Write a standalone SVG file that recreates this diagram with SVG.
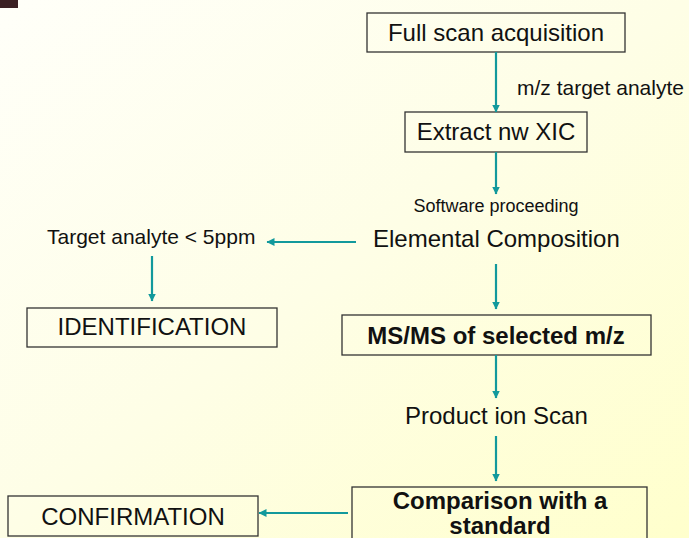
<svg xmlns="http://www.w3.org/2000/svg" width="689" height="538" viewBox="0 0 689 538">
  <defs>
    <linearGradient id="bg" x1="0" y1="0" x2="1" y2="1">
      <stop offset="0" stop-color="#fffff9"/>
      <stop offset="0.5" stop-color="#fefee6"/>
      <stop offset="1" stop-color="#ffffcc"/>
    </linearGradient>
    <marker id="head" markerUnits="userSpaceOnUse" markerWidth="9" markerHeight="9" refX="7.5" refY="4" orient="auto">
      <path d="M0,0 L8,4 L0,8 z" fill="#12999c"/>
    </marker>
  </defs>
  <style>
    .box { fill: none; stroke: #333333; stroke-width: 1.3; }
    .t { font-family: "Liberation Sans", Arial, sans-serif; fill: #111111; }
    .big { font-size: 24px; }
    .mid { font-size: 21px; }
    .small { font-size: 18px; }
    .bold { font-weight: bold; }
    .arrow { stroke: #12999c; stroke-width: 2.2; fill: none; marker-end: url(#head); }
  </style>

  <!-- page background and corner tab -->
  <rect x="0" y="0" width="689" height="538" fill="url(#bg)"/>
  <rect x="0" y="0" width="18" height="8" fill="#3b2024"/>

  <g id="full-scan">
    <rect class="box" x="367" y="13" width="258" height="39"/>
    <text class="t big" x="496" y="41" text-anchor="middle">Full scan acquisition</text>
  </g>

  <g id="mz-label">
    <text class="t mid" x="517" y="95">m/z target analyte</text>
  </g>

  <g id="extract-xic">
    <rect class="box" x="405" y="112" width="182" height="40"/>
    <text class="t big" x="496" y="140" text-anchor="middle">Extract nw XIC</text>
  </g>

  <g id="software-label">
    <text class="t small" x="496" y="212" text-anchor="middle">Software proceeding</text>
  </g>

  <g id="elemental">
    <text class="t big" x="373" y="247">Elemental Composition</text>
  </g>

  <g id="target-ppm">
    <text class="t mid" x="47" y="244">Target analyte &lt; 5ppm</text>
  </g>

  <g id="identification">
    <rect class="box" x="27" y="308" width="250" height="39"/>
    <text class="t big" x="152" y="335" text-anchor="middle">IDENTIFICATION</text>
  </g>

  <g id="msms">
    <rect class="box" x="342" y="315" width="309" height="40"/>
    <text class="t big bold" x="496" y="344" text-anchor="middle">MS/MS of selected m/z</text>
  </g>

  <g id="product-ion">
    <text class="t big" x="405" y="424">Product ion Scan</text>
  </g>

  <g id="comparison">
    <rect class="box" x="352" y="487" width="295" height="60"/>
    <text class="t big bold" x="500" y="509" text-anchor="middle">Comparison with a</text>
    <text class="t big bold" x="500" y="534" text-anchor="middle">standard</text>
  </g>

  <g id="confirmation">
    <rect class="box" x="8" y="496" width="250" height="40"/>
    <text class="t big" x="133" y="525" text-anchor="middle">CONFIRMATION</text>
  </g>

  <g id="connectors">
    <line class="arrow" x1="496" y1="52" x2="496" y2="112"/>
    <line class="arrow" x1="496" y1="152" x2="496" y2="194"/>
    <line class="arrow" x1="356" y1="242" x2="267" y2="242"/>
    <line class="arrow" x1="152" y1="256" x2="152" y2="301"/>
    <line class="arrow" x1="496" y1="264" x2="496" y2="309"/>
    <line class="arrow" x1="496" y1="355" x2="496" y2="398"/>
    <line class="arrow" x1="496" y1="436" x2="496" y2="481"/>
    <line class="arrow" x1="348" y1="513" x2="259" y2="513"/>
  </g>
</svg>
